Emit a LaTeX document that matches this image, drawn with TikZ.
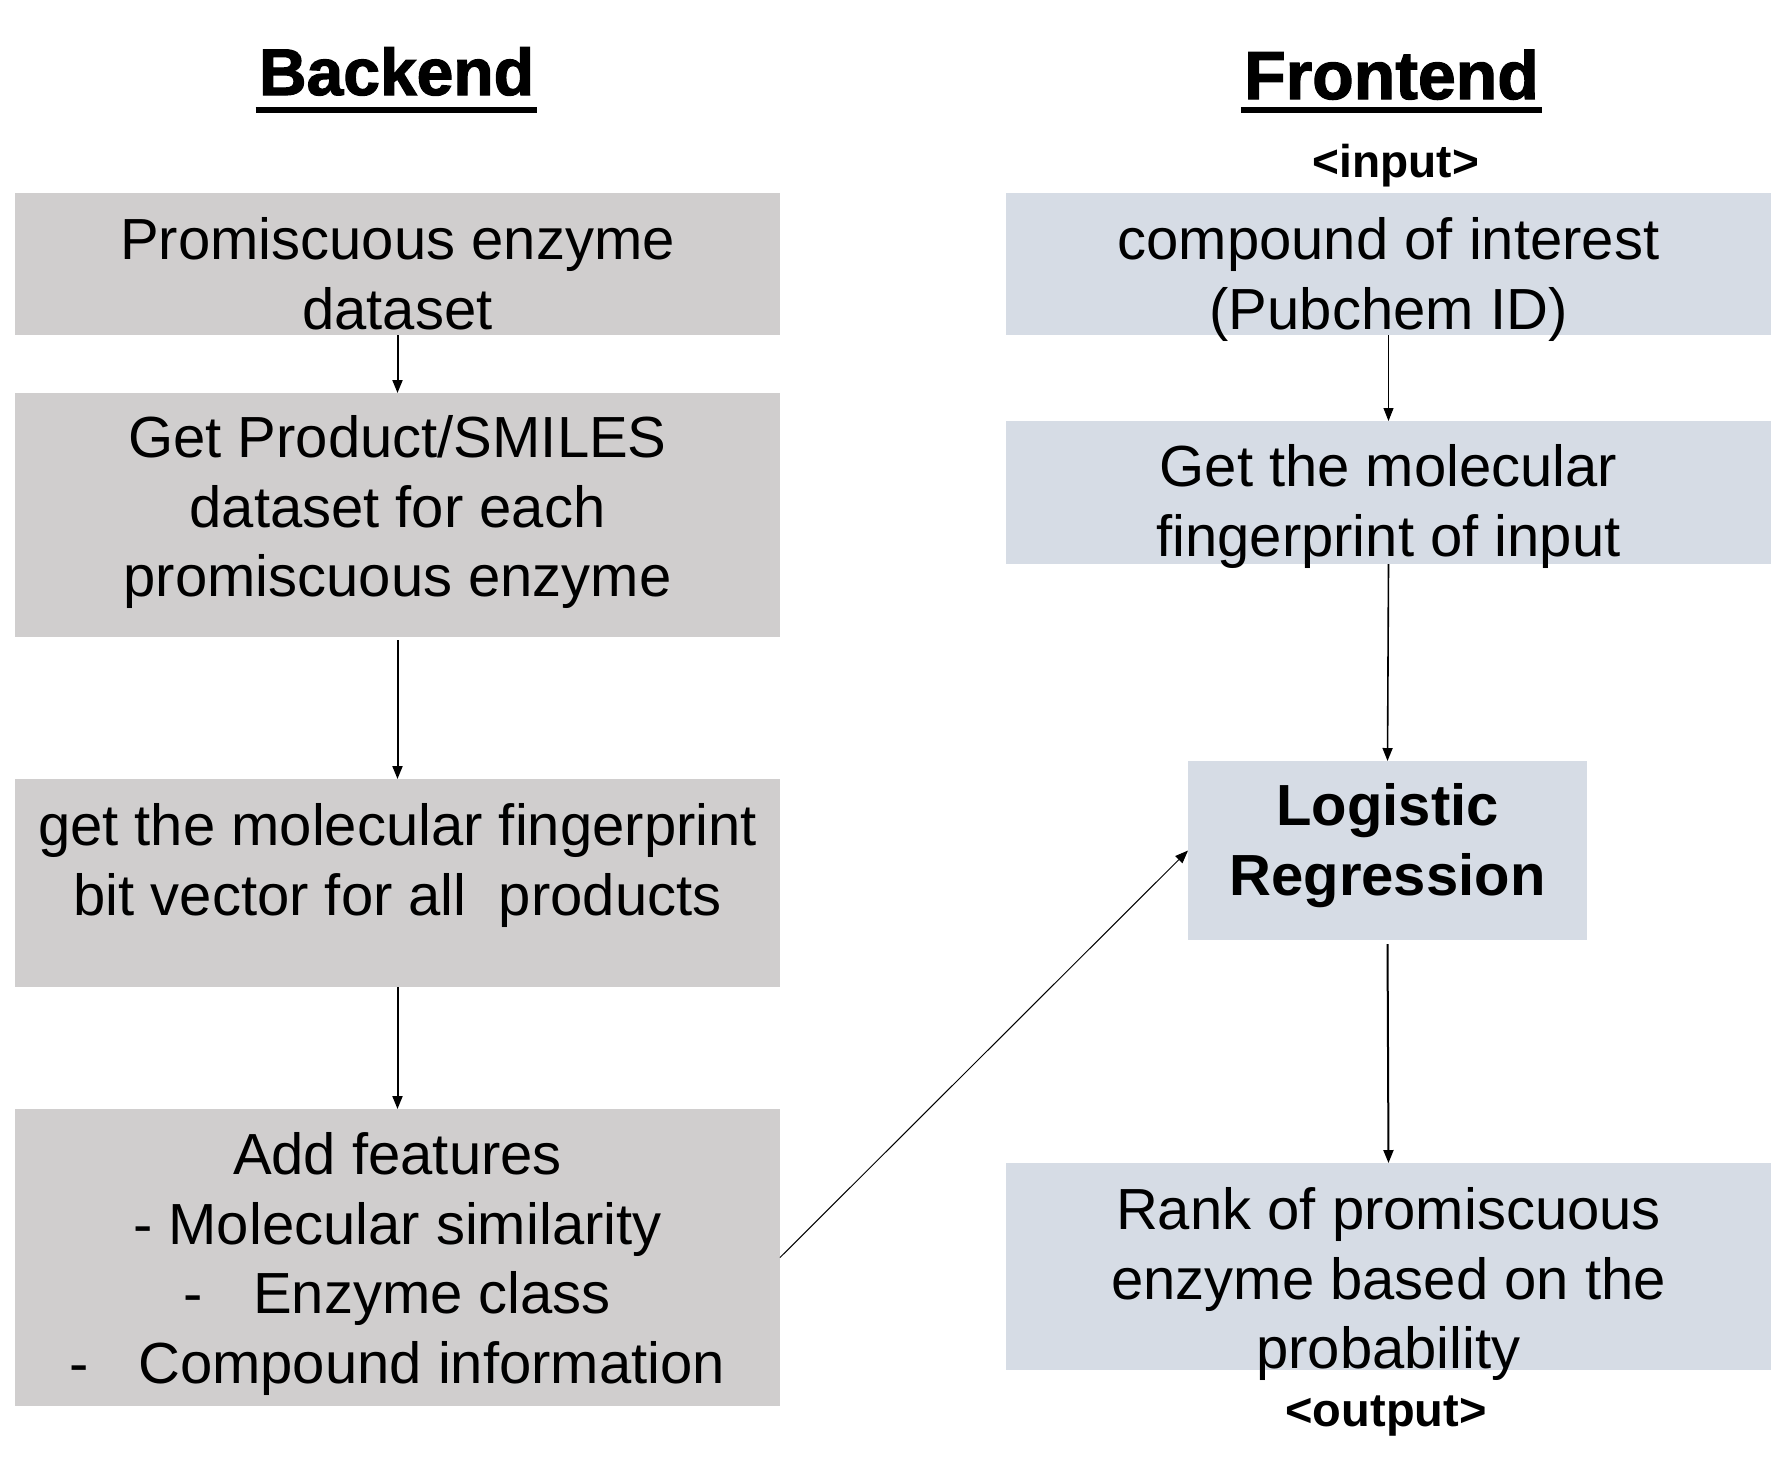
\documentclass[tikz,border=0pt]{standalone}
\usepackage{fontspec}
\setmainfont{Liberation Sans}
\newfontfamily\titlefont[BoldFeatures={FakeBold=1.8}]{Liberation Sans}
\usetikzlibrary{arrows.meta}
\definecolor{boxgray}{HTML}{D0CECE}
\definecolor{boxblue}{HTML}{D6DCE5}
\newcommand\fstrut{\rule{0pt}{24pt}}
\begin{document}
\begin{tikzpicture}[x=0.5pt,y=-0.5pt,
  box/.style={inner sep=0pt, outer sep=0pt, draw=none, minimum width=382.5pt},
  gbox/.style={box, fill=boxgray},
  bbox/.style={box, fill=boxblue},
  txt/.style={anchor=north, inner sep=0pt, align=center, font=\fontsize{29pt}{34.8pt}\selectfont},
  btxt/.style={txt, font=\fontsize{29pt}{34.8pt}\selectfont\bfseries},
  ttl/.style={anchor=base, inner sep=0pt, font=\titlefont\fontsize{33pt}{40pt}\selectfont\bfseries},
  tagtxt/.style={anchor=base, inner sep=0pt, font=\fontsize{23pt}{28pt}\selectfont\bfseries},
  arr/.style={-{Triangle[length=6.5pt,width=5pt]}, line width=1pt},
  tarr/.style={-{Triangle[length=6.5pt,width=5pt]}, line width=0.5pt},
  uline/.style={line width=2.6pt, shorten <=-1.5pt, shorten >=-1.5pt}]
\useasboundingbox (0,0) rectangle (1771,1473);

% titles
\node[ttl] (hb) at (396.5,95) {Backend};
\draw[uline] ([yshift=-7.5pt]hb.base west) -- ([yshift=-7.5pt]hb.base east);
\node[ttl, font=\titlefont\fontsize{34pt}{40pt}\selectfont\bfseries] (hf) at (1391.5,99) {Frontend};
\draw[uline] ([yshift=-5.5pt]hf.base west) -- ([yshift=-5.5pt]hf.base east);

% backend boxes
\node[gbox, minimum height=71pt] (b1) at (397.5,264) {};
\node[gbox, minimum height=122pt] (b2) at (397.5,515) {};
\node[gbox, minimum height=104pt] (b3) at (397.5,883) {};
\node[gbox, minimum height=148.5pt] (b4) at (397.5,1257.5) {};

% frontend boxes
\node[bbox, minimum height=71pt] (f1) at (1388.5,264) {};
\node[bbox, minimum height=71.5pt] (f2) at (1388.5,492.5) {};
\node[bbox, minimum width=199.5pt, minimum height=89.5pt] (lr) at (1387.5,850.5) {};
\node[bbox, minimum height=103.5pt] (f4) at (1388.5,1266.5) {};

% texts
\node[txt] (t1) at (397.5,211) {\fstrut Promiscuous enzyme\\dataset};
\node[txt] (t2) at (397.5,409) {\fstrut Get Product/SMILES\\dataset for each\\promiscuous enzyme};
\node[txt] (t3) at (397.5,797) {\fstrut get the molecular fingerprint\\bit vector for all\ \ products};
\node[txt] (t4) at (397.5,1126) {\fstrut Add features\\- Molecular similarity\\-\hspace{25pt}Enzyme class\\-\hspace{24.5pt}Compound information};

\node[tagtxt] (tin) at (1396,177) {<input>};
\node[txt] (u1) at (1388.5,211) {\fstrut compound of interest\\(Pubchem ID)};
\node[txt] (u2) at (1388.5,438) {\fstrut Get the molecular\\fingerprint of input};
\node[btxt] (u3) at (1387.5,777) {\fstrut Logistic\\Regression};
\node[txt] (u4) at (1388.5,1181) {\fstrut Rank of promiscuous\\enzyme based on the\\probability};
\node[tagtxt, font=\fontsize{23.5pt}{28pt}\selectfont\bfseries] (tout) at (1386,1426) {<output>};

% connectors
\draw[arr] (b1.south) -- (b2.north);
\draw[arr, shorten <=1.5pt] (b2.south) -- (b3.north);
\draw[arr] (b3.south) -- (b4.north);
\draw[tarr] (f1.south) -- (f2.north);
\draw[arr, line width=0.8pt] (f2.south) -- (lr.north);
\draw[arr, shorten <=2pt] (lr.south) -- (f4.north);
\draw[tarr] (b4.east) -- (lr.west);
\end{tikzpicture}
\end{document}
